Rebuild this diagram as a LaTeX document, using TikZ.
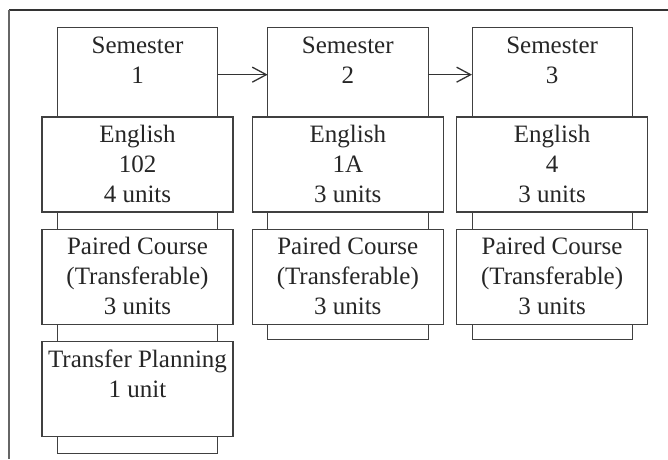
\documentclass[tikz,border=0pt]{standalone}
\usepackage{fontspec}
\setmainfont{Liberation Serif}
\usetikzlibrary{arrows.meta}
\usetikzlibrary{positioning}
\usetikzlibrary{backgrounds}

\begin{document}
\begin{tikzpicture}[x=1pt,y=-1pt,line width=1.3pt]
        % text boxes end on their last baseline, so height = first baseline + 30pt per extra line
        \tikzset{sem_head/.style = {anchor=north,minimum width=159pt,inner xsep=2pt,inner ysep=0pt,align=center,text height=55.5pt,text depth=32.5pt,font=\fontsize{25}{30}\selectfont,color=black!85}}
        \tikzset{course_box/.style = {sem_head,draw=black!75,fill=white,minimum width=191pt,text height=85.5pt,text depth=9.5pt}}
        \tikzset{short_box/.style = {course_box,text height=55.5pt,text depth=39.5pt}}
        \tikzset{stem_edge/.style = {draw=black!75}}
        \tikzset{next_edge/.style = {-{Straight Barb[length=14pt,width=15pt]},color=black!80}}

        \useasboundingbox (0,0) rectangle (668,459);
        \draw[black!80] (668,10) -- (9,10); \draw[black!60,line width=2pt] (9,10) -- (9,459);

        \node[sem_head] (sem1) at (137.5,27) {Semester\\1}; \node[sem_head,right=50pt of sem1] (sem2) {Semester\\2}; \node[sem_head,right=44pt of sem2] (sem3) {Semester\\3};
        \draw[next_edge] ([yshift=-3pt]sem1.east) -- ([yshift=-3pt]sem2.west); \draw[next_edge] ([yshift=-3pt]sem2.east) -- ([yshift=-3pt]sem3.west);

        \node[course_box,below=0pt of sem1] (eng1) {English\\102\\4 units}; \node[course_box,below=16pt of eng1] (pair1) {Paired Course\\(Transferable)\\3 units}; \node[short_box,below=16pt of pair1] (plan1) {Transfer Planning\\1 unit};
        \node[course_box,below=0pt of sem2] (eng2) {English\\1A\\3 units}; \node[course_box,below=16pt of eng2] (pair2) {Paired Course\\(Transferable)\\3 units};
        \node[course_box,below=0pt of sem3] (eng3) {English\\4\\3 units}; \node[course_box,below=16pt of eng3] (pair3) {Paired Course\\(Transferable)\\3 units};

        \coordinate[below=16pt of plan1] (end1); \coordinate[below=14pt of pair2] (end2); \coordinate[below=14pt of pair3] (end3);
        \begin{scope}[on background layer]
            \draw[stem_edge] (sem1.north west) rectangle (sem1.east |- end1); \draw[stem_edge] (sem2.north west) rectangle (sem2.east |- end2); \draw[stem_edge] (sem3.north west) rectangle (sem3.east |- end3);
        \end{scope}
    \end{tikzpicture}
\end{document}
